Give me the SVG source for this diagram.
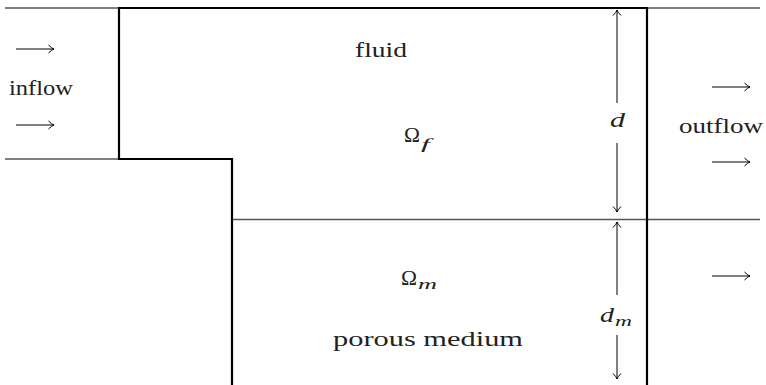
<svg xmlns="http://www.w3.org/2000/svg" width="766" height="385" viewBox="0 0 766 385">
<style>
.thin{stroke:#000;stroke-width:1;fill:none}
.gray{stroke:#555;stroke-width:1.3;fill:none}
.thick{stroke:#000;stroke-width:2.2;fill:none;stroke-linecap:square}
.arr{stroke:#000;stroke-width:1;fill:none;marker-end:url(#head)}
.t{font-family:"Liberation Serif","Times New Roman",serif;font-size:20px;fill:#222}
.i{font-style:italic}
.big{font-size:22px}
.sub{font-size:15px}
</style>
<defs>
<marker id="head" markerUnits="userSpaceOnUse" markerWidth="10" markerHeight="10" refX="0" refY="0" viewBox="-6 -5 8 10" orient="auto" overflow="visible">
<path d="M-5.5,-4 Q-2,-0.5 0,0 Q-2,0.5 -5.5,4" stroke="#000" stroke-width="1" fill="none"/>
</marker>
</defs>
<g id="walls">
<line class="thin" x1="5" y1="8" x2="119" y2="8"/>
<line class="thin" x1="5" y1="159" x2="119" y2="159"/>
<line class="thin" x1="647" y1="8" x2="760" y2="8"/>
<line class="gray" x1="232" y1="219.5" x2="760" y2="219.5"/>
<path class="thick" d="M119,8 L647,8 M119,8 L119,159 L232,159 L232,385 M647,8 L647,385"/>
</g>
<g id="connectors">
<line class="arr" x1="16" y1="49" x2="54" y2="49"/>
<line class="arr" x1="16" y1="125" x2="54" y2="125"/>
<line class="arr" x1="712" y1="87" x2="750" y2="87"/>
<line class="arr" x1="712" y1="162" x2="750" y2="162"/>
<line class="arr" x1="712" y1="276" x2="750" y2="276"/>
<line class="arr" x1="617" y1="103" x2="617" y2="10"/>
<line class="arr" x1="617" y1="143" x2="617" y2="212"/>
<line class="arr" x1="617" y1="295" x2="617" y2="222"/>
<line class="arr" x1="617" y1="335" x2="617" y2="379"/>
</g>
<g id="labels">
<text class="t" x="9" y="95" textLength="64" lengthAdjust="spacingAndGlyphs">inflow</text>
<text class="t" x="679" y="133" textLength="84" lengthAdjust="spacingAndGlyphs">outflow</text>
<text class="t" x="355" y="57" textLength="52" lengthAdjust="spacingAndGlyphs">fluid</text>
<text class="t" x="333" y="346" textLength="190" lengthAdjust="spacingAndGlyphs">porous medium</text>
</g>
<g id="omega-f">
<text class="t big" x="404" y="142" textLength="16" lengthAdjust="spacingAndGlyphs">Ω</text>
<text class="t i sub" x="421" y="149" textLength="9" lengthAdjust="spacingAndGlyphs">f</text>
</g>
<g id="omega-m">
<text class="t big" x="401" y="285" textLength="16" lengthAdjust="spacingAndGlyphs">Ω</text>
<text class="t i sub" x="418" y="289" textLength="19" lengthAdjust="spacingAndGlyphs">m</text>
</g>
<g id="dim-d">
<text class="t i" x="610" y="127" textLength="15" lengthAdjust="spacingAndGlyphs">d</text>
</g>
<g id="dim-dm">
<text class="t i" x="600" y="322" textLength="14" lengthAdjust="spacingAndGlyphs">d</text>
<text class="t i sub" x="615" y="326" textLength="17" lengthAdjust="spacingAndGlyphs">m</text>
</g>
</svg>
